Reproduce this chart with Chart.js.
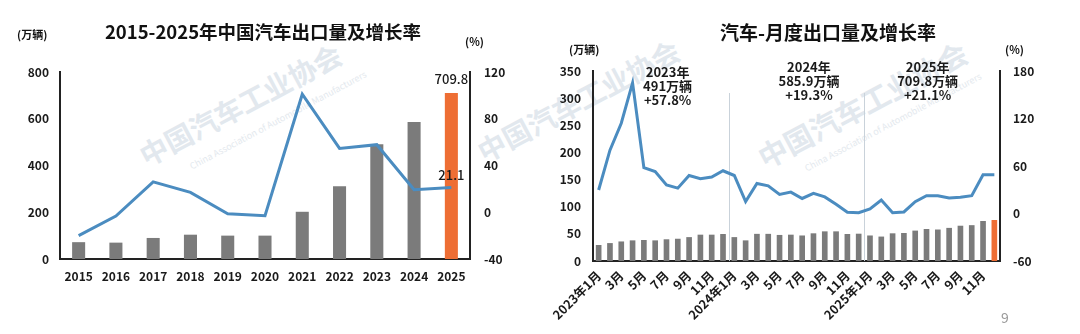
<!DOCTYPE html>
<html>
<head>
<meta charset="utf-8">
<script src="https://cdn.jsdelivr.net/npm/chart.js@4"></script>
<style>
    body { margin: 0; background: #fff; width: 1080px; height: 334px; position: relative; overflow: hidden;
           font-family: "Noto Sans CJK SC", "Noto Sans", sans-serif; }
    .box { position: absolute; top: 0; width: 540px; height: 334px; }
    .t { position: absolute; font-weight: bold; color: #111; white-space: nowrap; line-height: 1; }
    .wm { position: absolute; white-space: nowrap; line-height: 1; color: #e2e8ee; font-weight: bold;
          transform: translate(-50%, -50%) rotate(-28deg); }
    .wm.en { font-size: 9px; font-weight: normal; color: #e4e9ee; }
</style>
</head>
<body>
<!-- watermarks -->
<div class="wm" style="left:240px; top:104px; font-size:28px;">中国汽车工业协会</div>
<div class="wm en" style="left:278px; top:120px;">China Association of Automobile Manufacturers</div>
<div class="wm" style="left:578px; top:100px; font-size:28px;">中国汽车工业协会</div>
<div class="wm" style="left:862px; top:104px; font-size:29px;">中国汽车工业协会</div>
<div class="wm en" style="left:893px; top:122px;">China Association of Automobile Manufacturers</div>

<div class="box" style="left:0"><canvas id="yearChart" width="540" height="334"></canvas></div>
<div class="box" style="left:540px"><canvas id="monthChart" width="540" height="334"></canvas></div>

<div class="t" style="left:263px; top:22px; transform:translateX(-50%); font-size:18.5px;">2015-2025年中国汽车出口量及增长率</div>
<div class="t" style="left:17px; top:29px; font-size:11px;">(万辆)</div>
<div class="t" style="left:465px; top:36px; font-size:11px;">(%)</div>

<div class="t" style="left:828px; top:22px; transform:translateX(-50%); font-size:19px;">汽车-月度出口量及增长率</div>
<div class="t" style="left:569px; top:44px; font-size:11px;">(万辆)</div>
<div class="t" style="left:1005px; top:44px; font-size:11px;">(%)</div>
<div style="position:absolute; left:1001px; top:307px; font-size:14px; color:#9a9a9a;">9</div>

<script>
// ---- yearly data ----
const years = ['2015', '2016', '2017', '2018', '2019', '2020', '2021', '2022', '2023', '2024', '2025'];
const yearVolume = [72, 70, 90, 104, 100, 100, 202, 311, 491, 585.9, 709.8];      // 万辆
const yearGrowth = [-20, -3.3, 26, 17, -1.3, -3, 101, 54.6, 57.8, 19.3, 21.1];     // %
const volumeTicks = [0, 800, 200];
const growthTicks = [-40, 120, 40];

// ---- monthly data ----
const monthLabels = [];
['2023', '2024', '2025'].forEach(y => {
    for (let m = 1; m <= 12; m++) monthLabels.push(m === 1 ? y + '年1月' : m + '月');
});
const monthVolume = [
    29.5, 33, 36, 38, 38.7, 38, 40, 41, 44, 48.5, 48.5, 49.7,
    44, 38, 50, 50, 48, 48.5, 47, 51, 54.6, 54.6, 49.7, 50.3,
    47, 45, 51, 51.6, 56, 59, 58, 61, 65, 66, 73.7, 75.5
];
const monthGrowth = [
    29.7, 80, 114, 165, 58, 53, 36, 32, 48, 44, 46, 54,
    48, 15, 38, 35, 24, 27, 19, 25.5, 21, 11.6, 1.5, 1,
    5.7, 17, 1, 2, 15, 22.5, 22.5, 19.6, 20.4, 22.5, 49, 49
];
const monthVolumeTicks = [0, 350, 50];
const monthGrowthTicks = [-60, 180, 60];
const yearNotes = [
    { lines: ['2023年', '491万辆', '+57.8%'], at: 6.1 },
    { lines: ['2024年', '585.9万辆', '+19.3%'], at: 18.6 },
    { lines: ['2025年', '709.8万辆', '+21.1%'], at: 29.1 }
];

const GRAY = '#7b7b7b';
const ORANGE = '#ee6e34';
const BLUE = '#4b8cc0';
const FONT = '"Noto Sans CJK SC", "Noto Sans", sans-serif';

function yAxis(ticks, position, width, pad) {
    return {
        position: position,
        min: ticks[0],
        max: ticks[1],
        grid: { display: false, drawTicks: false },
        border: { display: true, color: '#222', width: 2 },
        ticks: { stepSize: ticks[2], padding: pad, color: '#1a1a1a', font: { family: FONT, size: 12, weight: 'bold' } },
        afterFit: scale => { scale.width = width; }
    };
}

// value labels on the yearly chart
const yearLabelsPlugin = {
    id: 'yearLabels',
    afterDatasetsDraw(chart) {
        const ctx = chart.ctx;
        const last = years.length - 1;
        const bar = chart.getDatasetMeta(1).data[last];
        const pt = chart.getDatasetMeta(0).data[last];
        ctx.save();
        ctx.fillStyle = '#1a1a1a';
        ctx.font = '500 13px ' + FONT;
        ctx.textAlign = 'center';
        ctx.textBaseline = 'bottom';
        ctx.fillText(yearVolume[last].toFixed(1), bar.x, bar.y - 8);
        ctx.fillText(yearGrowth[last].toFixed(1), pt.x, pt.y - 6);
        ctx.restore();
    }
};

new Chart(document.getElementById('yearChart'), {
    data: {
        labels: years,
        datasets: [{
            type: 'line',
            data: yearGrowth,
            yAxisID: 'y1',
            borderColor: BLUE,
            borderWidth: 3,
            pointRadius: 0,
            tension: 0
        }, {
            type: 'bar',
            data: yearVolume,
            yAxisID: 'y',
            backgroundColor: years.map((y, i) => i === years.length - 1 ? ORANGE : GRAY),
            barPercentage: 0.35,
            categoryPercentage: 1
        }]
    },
    options: {
        responsive: false,
        animation: false,
        layout: { padding: { top: 72, left: 0, right: 0, bottom: 0 } },
        plugins: { legend: { display: false }, tooltip: { enabled: false } },
        scales: {
            x: {
                grid: { display: false, drawTicks: false },
                border: { display: true, color: '#222', width: 2 },
                ticks: { padding: 10, color: '#1a1a1a', font: { family: FONT, size: 12, weight: 'bold' } },
                afterFit: scale => { scale.height = 75; }
            },
            y: yAxis(volumeTicks, 'left', 60, 11),
            y1: yAxis(growthTicks, 'right', 70, 14)
        }
    },
    plugins: [yearLabelsPlugin]
});

// separators and yearly notes on the monthly chart
const monthNotesPlugin = {
    id: 'monthNotes',
    beforeDatasetsDraw(chart) {
        const ctx = chart.ctx;
        const xs = chart.scales.x;
        const area = chart.chartArea;
        ctx.save();
        ctx.strokeStyle = '#c9d2da';
        ctx.lineWidth = 1;
        [11.5, 23.5].forEach(v => {
            const x = Math.round(xs.getPixelForValue(v)) + 0.5;
            ctx.beginPath();
            ctx.moveTo(x, area.top + 22);
            ctx.lineTo(x, area.bottom);
            ctx.stroke();
        });
        ctx.restore();
    },
    afterDatasetsDraw(chart) {
        const ctx = chart.ctx;
        const xs = chart.scales.x;
        const top = chart.chartArea.top;
        ctx.save();
        ctx.fillStyle = '#1a1a1a';
        ctx.font = '600 13px ' + FONT;
        ctx.textAlign = 'center';
        ctx.textBaseline = 'middle';
        yearNotes.forEach((n, k) => {
            const x = xs.getPixelForValue(n.at);
            const y0 = top + (k === 0 ? 1 : -4);
            n.lines.forEach((s, j) => ctx.fillText(s, x, y0 + j * 14));
        });
        ctx.restore();
    }
};

new Chart(document.getElementById('monthChart'), {
    data: {
        labels: monthLabels,
        datasets: [{
            type: 'line',
            data: monthGrowth,
            yAxisID: 'y1',
            borderColor: BLUE,
            borderWidth: 3,
            pointRadius: 0,
            tension: 0
        }, {
            type: 'bar',
            data: monthVolume,
            yAxisID: 'y',
            backgroundColor: monthLabels.map((m, i) => i === monthLabels.length - 1 ? ORANGE : GRAY),
            barPercentage: 0.5,
            categoryPercentage: 1
        }]
    },
    options: {
        responsive: false,
        animation: false,
        layout: { padding: { top: 71, left: 0, right: 0, bottom: 0 } },
        plugins: { legend: { display: false }, tooltip: { enabled: false } },
        scales: {
            x: {
                grid: { display: false, drawTicks: false },
                border: { display: true, color: '#222', width: 2 },
                ticks: {
                    autoSkip: false,
                    maxRotation: 45,
                    minRotation: 45,
                    padding: 7,
                    color: '#1a1a1a',
                    font: { family: FONT, size: 12.5, weight: 'bold' },
                    callback: (v, i) => i % 2 === 0 ? monthLabels[i] : ''
                },
                afterFit: scale => { scale.height = 73; }
            },
            y: yAxis(monthVolumeTicks, 'left', 53, 12),
            y1: yAxis(monthGrowthTicks, 'right', 80, 13)
        }
    },
    plugins: [monthNotesPlugin]
});
</script>
</body>
</html>
